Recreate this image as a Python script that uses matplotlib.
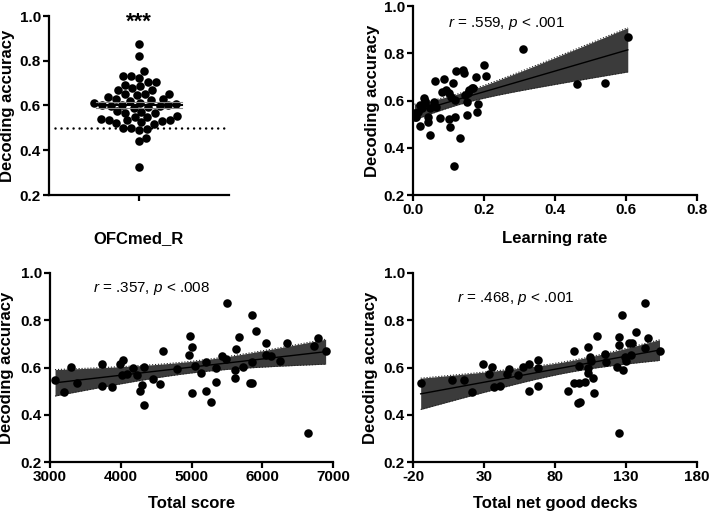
import numpy as np
import matplotlib
matplotlib.use('Agg')
from matplotlib import pyplot as plt

plt.rcParams['font.family'] = ['Liberation Sans', 'DejaVu Sans']
plt.rcParams['mathtext.fontset'] = 'custom'
plt.rcParams['mathtext.rm'] = 'Liberation Sans'
plt.rcParams['mathtext.it'] = 'Liberation Sans:italic'

# ---- data ----
# total score vs decoding accuracy
score = [3071, 3198, 3296, 3376, 3729, 3729, 3871, 3988, 4026, 4012, 4082, 4176, 4224, 4271,
         4306, 4322, 4322, 4459, 4553, 4600, 4788, 4962, 4976, 5012, 5000, 5047, 5141, 5200,
         5212, 5271, 5353, 5353, 5435, 5494, 5506, 5612, 5635, 5612, 5671, 5729, 5824, 5859,
         5859, 5859, 5906, 6047, 6059, 6129, 6247, 6353, 6725, 6788, 6896, 6647]
acc_score = [.547, .497, .601, .533, .613, .523, .518, .613, .630, .568, .572, .599, .568, .501,
             .525, .603, .440, .550, .530, .671, .592, .653, .734, .686, .490, .608, .575, .625,
             .501, .455, .540, .596, .647, .636, .873, .590, .677, .554, .731, .603, .535, .535,
             .622, .823, .754, .703, .653, .650, .627, .705, .693, .724, .670, .323]

# decoding accuracy for OFCmed_R (same subjects)
acc_ofc = acc_score

# learning rate vs decoding accuracy
lr = [0.009, 0.014, 0.019, 0.030, 0.033, 0.024, 0.042, 0.042, 0.049, 0.047, 0.061, 0.058, 0.066,
      0.077, 0.083, 0.087, 0.094, 0.102, 0.104, 0.108, 0.113, 0.118, 0.118, 0.120, 0.133, 0.116,
      0.141, 0.144, 0.151, 0.146, 0.153, 0.158, 0.165, 0.177, 0.179, 0.184, 0.199, 0.207, 0.311,
      0.461, 0.541, 0.605, 0.004, 0.020, 0.035, 0.005, 0.170, 0.155, 0.100]
acc_lr = [.532, .553, .492, .609, .588, .567, .510, .532, .454, .567, .683, .595, .571,
          .527, .637, .690, .644, .522, .489, .616, .673, .602, .532, .726, .440, .323,
          .729, .718, .539, .623, .595, .644, .651, .701, .553, .585, .750, .704, .818,
          .668, .675, .870, .545, .580, .600, .530, .655, .630, .630]

# total net good decks vs decoding accuracy
net = [-14.6, 7.8, 15.8, 21.6, 29.6, 33.6, 35.8, 37.2, 41.6, 45.9, 47.8, 53.6, 57.6, 61.6, 61.9,
       67.8, 67.8, 67.8, 89.4, 93.4, 93.4, 96.0, 97.6, 97.2, 97.2, 101.2, 103.1, 103.5, 103.5,
       104.7, 105.4, 107.1, 107.5, 109.4, 115.3, 115.8, 123.5, 125.4, 125.4, 127.8, 127.5, 125.4,
       129.4, 130.1, 131.8, 134.1, 133.6, 137.2, 143.5, 145.4, 143.5, 153.6]
acc_net = [.533, .547, .547, .497, .613, .572, .601, .518, .523, .572, .593, .568, .603, .615, .501,
           .632, .596, .521, .501, .671, .533, .448, .455, .606, .533, .540, .686, .596, .578,
           .646, .628, .554, .490, .735, .656, .625, .603, .731, .695, .589, .823, .323,
           .646, .628, .705, .705, .653, .752, .873, .724, .682, .671]

stats_text = [r'$\it{r}$ = .559, $\it{p}$ < .001',
              r'$\it{r}$ = .357, $\it{p}$ < .008',
              r'$\it{r}$ = .468, $\it{p}$ < .001']

FW, FH = 709, 511
MS = 38  # marker area
TICK_FS = 11
LAB_FS = 12


def style_axes(ax):
    for s in ['top', 'right']:
        ax.spines[s].set_visible(False)
    for s in ['left', 'bottom']:
        ax.spines[s].set_linewidth(1.6)
    ax.tick_params(direction='out', length=4.3, width=1.6, labelsize=TICK_FS, pad=1.5)
    ax.set_ylim(0.2, 1.0)
    ax.set_yticks([0.2, 0.4, 0.6, 0.8, 1.0])
    ax.set_yticklabels(['0.2', '0.4', '0.6', '0.8', '1.0'])
    for lab in ax.get_xticklabels() + ax.get_yticklabels():
        lab.set_fontweight('bold')
        lab.set_fontsize(TICK_FS)
    ax.set_ylabel('Decoding accuracy', fontsize=LAB_FS, fontweight='bold', va='center')


def scatter_fit(ax, x, y, xlim, xticks, xticklabels, xlabel, txt, txt_pos):
    x = np.array(x, float); y = np.array(y, float)
    n = len(x)
    b, a = np.polyfit(x, y, 1)
    xg = np.linspace(x.min(), x.max(), 200)
    yg = a + b * xg
    res = y - (a + b * x)
    s = np.sqrt(np.sum(res ** 2) / (n - 2))
    sxx = np.sum((x - x.mean()) ** 2)
    se = s * np.sqrt(1.0 / n + (xg - x.mean()) ** 2 / sxx)
    lo, hi = yg - 2.007 * se, yg + 2.007 * se
    ax.fill_between(xg, lo, hi, color='#3b3b3b', lw=0, zorder=1)
    ax.plot(xg, lo, color='#222222', lw=0.8, ls=':', zorder=1)
    ax.plot(xg, hi, color='#222222', lw=0.8, ls=':', zorder=1)
    ax.plot(xg, yg, color='black', lw=1.0, zorder=2)
    ax.scatter(x, y, s=MS, color='black', lw=0, zorder=3)
    ax.set_xlim(*xlim)
    ax.set_xticks(xticks)
    ax.set_xticklabels(xticklabels)
    style_axes(ax)
    ax.set_xlabel(xlabel, fontsize=LAB_FS, fontweight='bold')
    ax.text(txt_pos[0], txt_pos[1], txt, fontsize=11, ha='left', va='center')


def beeswarm(vals, px_x, px_y, d):
    order = np.argsort(vals)
    placed = []
    xs = np.zeros(len(vals))
    for i in order:
        yi = vals[i] * px_y
        cands = [0.0]
        for (xj, yj) in placed:
            dy = yi - yj
            if abs(dy) < d:
                dx = np.sqrt(d * d - dy * dy)
                cands += [xj + dx, xj - dx]
        cands.sort(key=abs)
        for c in cands:
            ok = all((c - xj) ** 2 + (yi - yj) ** 2 >= d * d - 1e-6 for (xj, yj) in placed)
            if ok:
                break
        placed.append((c, yi))
        xs[i] = c / px_x
    return xs


def place_labels(ax, ylab_x, xlab_y):
    ax.yaxis.set_label_coords(ylab_x, 0.5)
    ax.xaxis.set_label_coords(0.5, xlab_y)
    ax.xaxis.label.set_va('center')


fig = plt.figure(figsize=(FW / 100, FH / 100), dpi=100)

# panel 1: OFCmed_R swarm
ax1 = fig.add_axes([49 / FW, 1 - 195 / FH, 180 / FW, 179 / FH])
vals = np.array(acc_ofc, float)
px_x = 180 / 2.0
px_y = 179 / 0.8
xs = beeswarm(vals, px_x, px_y, 8.2)
m = vals.mean()
sem = vals.std(ddof=1) / np.sqrt(len(vals))
ax1.plot([-0.93, 1.0], [0.5, 0.5], color='black', lw=1.8, ls=(0, (0.01, 2.4)),
         dash_capstyle='round', zorder=1)
ax1.scatter(xs, vals, s=MS, color='black', lw=0, zorder=3)
ax1.plot([-0.48, 0.48], [m, m], color='black', lw=1.5, zorder=4)
ax1.plot([-0.48, 0.48], [m - sem, m - sem], color='#888888', lw=0.8, zorder=4)
ax1.plot([-0.48, 0.48], [m + sem, m + sem], color='#888888', lw=0.8, zorder=4)
ax1.set_xlim(-1, 1)
ax1.set_xticks([0])
ax1.set_xticklabels([''])
style_axes(ax1)
ax1.set_xlabel('OFCmed_R', fontsize=LAB_FS, fontweight='bold')
ax1.text(0, 0.97, '***', fontsize=16, fontweight='bold', ha='center', va='center')
place_labels(ax1, -0.233, -0.246)

# panel 2: learning rate
ax2 = fig.add_axes([413 / FW, 1 - 195 / FH, 284 / FW, 189 / FH])
scatter_fit(ax2, lr, acc_lr, (0, 0.8), [0.0, 0.2, 0.4, 0.6, 0.8],
            ['0.0', '0.2', '0.4', '0.6', '0.8'], 'Learning rate',
            stats_text[0], (0.099, 0.928))
place_labels(ax2, -0.144, -0.228)

# panel 3: total score
ax3 = fig.add_axes([50 / FW, 1 - 462 / FH, 283 / FW, 189 / FH])
scatter_fit(ax3, score, acc_score, (3000, 7000), [3000, 4000, 5000, 6000, 7000],
            ['3000', '4000', '5000', '6000', '7000'], 'Total score',
            stats_text[1], (3608, 0.936))
place_labels(ax3, -0.152, -0.217)

# panel 4: total net good decks
ax4 = fig.add_axes([413 / FW, 1 - 462 / FH, 284 / FW, 189 / FH])
scatter_fit(ax4, net, acc_net, (-20, 180), [-20, 30, 80, 130, 180],
            ['-20', '30', '80', '130', '180'], 'Total net good decks',
            stats_text[2], (11, 0.894))
place_labels(ax4, -0.148, -0.217)

fig.savefig('out.png', dpi=100)
